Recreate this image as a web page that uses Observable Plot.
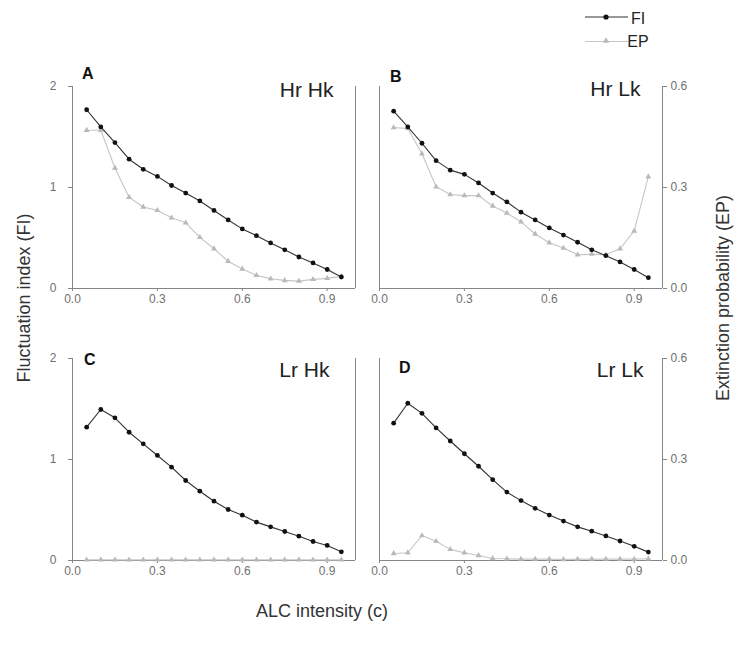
<!DOCTYPE html>
<html><head><meta charset="utf-8">
<script src="https://cdn.jsdelivr.net/npm/d3@7"></script>
<script src="https://cdn.jsdelivr.net/npm/@observablehq/plot@0.6"></script>
<style>body{margin:0;background:#fff;font-family:"Liberation Sans",Arial,sans-serif}</style>
</head><body><div id="chart"></div>
<script>
// ---- data ----
const intensity = [0.05,0.10,0.15,0.20,0.25,0.30,0.35,0.40,0.45,0.50,0.55,0.60,0.65,0.70,0.75,0.80,0.85,0.90,0.95];
const panelKeys   = ["A","B","C","D"];
const panelTitles = ["Hr Hk","Hr Lk","Lr Hk","Lr Lk"];
const panelCols   = ["L","R","L","R"];
const panelRows   = ["T","T","B","B"];

const fiA = [1.77,1.60,1.445,1.28,1.18,1.11,1.02,0.945,0.867,0.773,0.679,0.59,0.523,0.451,0.383,0.312,0.253,0.188,0.114];
const epA = [0.47,0.47,0.358,0.271,0.242,0.232,0.21,0.195,0.152,0.118,0.081,0.058,0.039,0.029,0.024,0.022,0.027,0.03,0.036];
const fiB = [1.756,1.60,1.438,1.266,1.172,1.13,1.045,0.945,0.857,0.756,0.679,0.60,0.529,0.458,0.383,0.325,0.263,0.188,0.107];
const epB = [0.478,0.475,0.40,0.302,0.279,0.276,0.276,0.245,0.224,0.198,0.162,0.136,0.12,0.10,0.102,0.10,0.118,0.171,0.332];
const fiC = [1.32,1.495,1.413,1.27,1.155,1.04,0.924,0.792,0.686,0.587,0.505,0.449,0.38,0.333,0.287,0.241,0.188,0.149,0.086];
const epC = [0.002,0.002,0.002,0.002,0.002,0.002,0.002,0.002,0.002,0.002,0.002,0.002,0.002,0.002,0.002,0.002,0.002,0.002,0.002];
const fiD = [1.36,1.557,1.457,1.313,1.183,1.057,0.933,0.80,0.677,0.593,0.517,0.45,0.39,0.333,0.29,0.243,0.193,0.14,0.083];
const epD = [0.021,0.023,0.074,0.057,0.033,0.023,0.015,0.006,0.005,0.004,0.004,0.004,0.003,0.004,0.004,0.004,0.004,0.004,0.005];

const xTicks  = [0, 0.3, 0.6, 0.9];
const fiTicks = [0, 1, 2];
const epTicks = [0.0, 0.3, 0.6];
const fiMax = 2, epMax = 0.6;

// ---- tables ----
const fiSeries = [fiA, fiB, fiC, fiD];
const epSeries = [epA, epB, epC, epD];
const panels = panelKeys.map((k, i) => ({key: k, title: panelTitles[i], col: panelCols[i], row: panelRows[i]}));
const fiRows = [], epRows = [];
panels.forEach((p, i) => {
  intensity.forEach((c, j) => {
    fiRows.push({panel: p.key, col: p.col, row: p.row, c, v: fiSeries[i][j]});
    epRows.push({panel: p.key, col: p.col, row: p.row, c, v: epSeries[i][j] / epMax * fiMax});
  });
});

// label offsets (style)
const letterOff = {A: [9.5, -8], B: [10.5, -5], C: [11.5, 6], D: [19.5, 14]};
const titleOff  = {A: [-22, 10], B: [-22, 9], C: [-26, 18], D: [-19, 18]};

const axisGray = "#858585", textGray = "#707070";

const marks = [
  Plot.ruleY([0], {stroke: axisGray}),
  Plot.ruleX([0, 1], {stroke: axisGray}),
  Plot.axisX({ticks: xTicks, tickFormat: d3.format(".1f"), facetAnchor: null, tickSize: 3, tickPadding: 3,
              fontSize: 12, stroke: axisGray, fill: textGray, label: null}),
  Plot.axisY({anchor: "left", ticks: fiTicks, tickFormat: d3.format("d"), facetAnchor: "left", tickSize: 4, tickPadding: 12,
              fontSize: 12, stroke: axisGray, fill: textGray, label: null}),
  Plot.axisY({anchor: "right", ticks: epTicks.map(e => e / epMax * fiMax),
              tickFormat: d => (d / fiMax * epMax).toFixed(1), facetAnchor: "right", tickSize: 4, tickPadding: 4,
              fontSize: 12, stroke: axisGray, fill: textGray, label: null}),
  Plot.line(epRows, {x: "c", y: "v", fx: "col", fy: "row", z: "panel", stroke: "#c6c6c6", strokeWidth: 1.1}),
  Plot.dot(epRows, {x: "c", y: "v", fx: "col", fy: "row", symbol: "triangle", r: 2.2, fill: "#b9b9b9", stroke: "none"}),
  Plot.line(fiRows, {x: "c", y: "v", fx: "col", fy: "row", z: "panel", stroke: "#333", strokeWidth: 1.1}),
  Plot.dot(fiRows, {x: "c", y: "v", fx: "col", fy: "row", r: 2.4, fill: "#111", stroke: "none"})
];
panels.forEach(p => {
  marks.push(Plot.text([p], {fx: "col", fy: "row", text: "key", frameAnchor: "top-left", textAnchor: "start",
    lineAnchor: "bottom", dx: letterOff[p.key][0], dy: letterOff[p.key][1], fontSize: 16, fontWeight: "bold", fill: "#111"}));
  marks.push(Plot.text([p], {fx: "col", fy: "row", text: "title", frameAnchor: "top-right", textAnchor: "end",
    lineAnchor: "bottom", dx: titleOff[p.key][0], dy: titleOff[p.key][1], fontSize: 21, fill: "#222", ariaLabel: "panel title"}));
});

const chart = Plot.plot({
  width: 737, height: 645,
  marginLeft: 71.5, marginRight: 75.3, marginTop: 86, marginBottom: 84,
  style: {fontFamily: "Liberation Sans, Arial, sans-serif", background: "white", overflow: "visible"},
  fx: {domain: ["L", "R"], paddingInner: 0.0788, paddingOuter: 0, axis: null, label: null},
  fy: {domain: ["T", "B"], paddingInner: 0.257, paddingOuter: 0, axis: null, label: null},
  x: {domain: [0, 1]},
  y: {domain: [0, 2]},
  marks
});
document.getElementById("chart").appendChild(chart);

const svg = d3.select(chart);
svg.selectAll('g[aria-label="panel title"] text').style("letter-spacing", "1.2px");

// axis titles
svg.append("text").attr("transform", "translate(24,298) rotate(-90)").attr("text-anchor", "middle")
  .attr("dy", "0.35em").attr("font-size", 18).attr("fill", "#333").text("Fluctuation index (FI)");
svg.append("text").attr("transform", "translate(723,298) rotate(-90)").attr("text-anchor", "middle")
  .attr("dy", "0.35em").attr("font-size", 18).attr("fill", "#333").text("Extinction probability (EP)");
svg.append("text").attr("x", 322).attr("y", 617).attr("text-anchor", "middle")
  .attr("font-size", 18).attr("fill", "#333").text("ALC intensity (c)");

// legend
const lg = svg.append("g").attr("aria-label", "legend");
lg.append("line").attr("x1", 585).attr("x2", 628).attr("y1", 17).attr("y2", 17).attr("stroke", "#333").attr("stroke-width", 1.1);
lg.append("circle").attr("cx", 606).attr("cy", 17).attr("r", 2.6).attr("fill", "#111");
lg.append("line").attr("x1", 585).attr("x2", 628).attr("y1", 41.5).attr("y2", 41.5).attr("stroke", "#c6c6c6").attr("stroke-width", 1.1);
lg.append("path").attr("d", d3.symbol(d3.symbolTriangle, 18)()).attr("transform", "translate(606,41)").attr("fill", "#b9b9b9");
lg.append("text").attr("x", 638).attr("y", 24).attr("font-size", 16).attr("fill", "#222").text("FI");
lg.append("text").attr("x", 638).attr("y", 47).attr("font-size", 16).attr("fill", "#222").text("EP");
</script></body></html>
